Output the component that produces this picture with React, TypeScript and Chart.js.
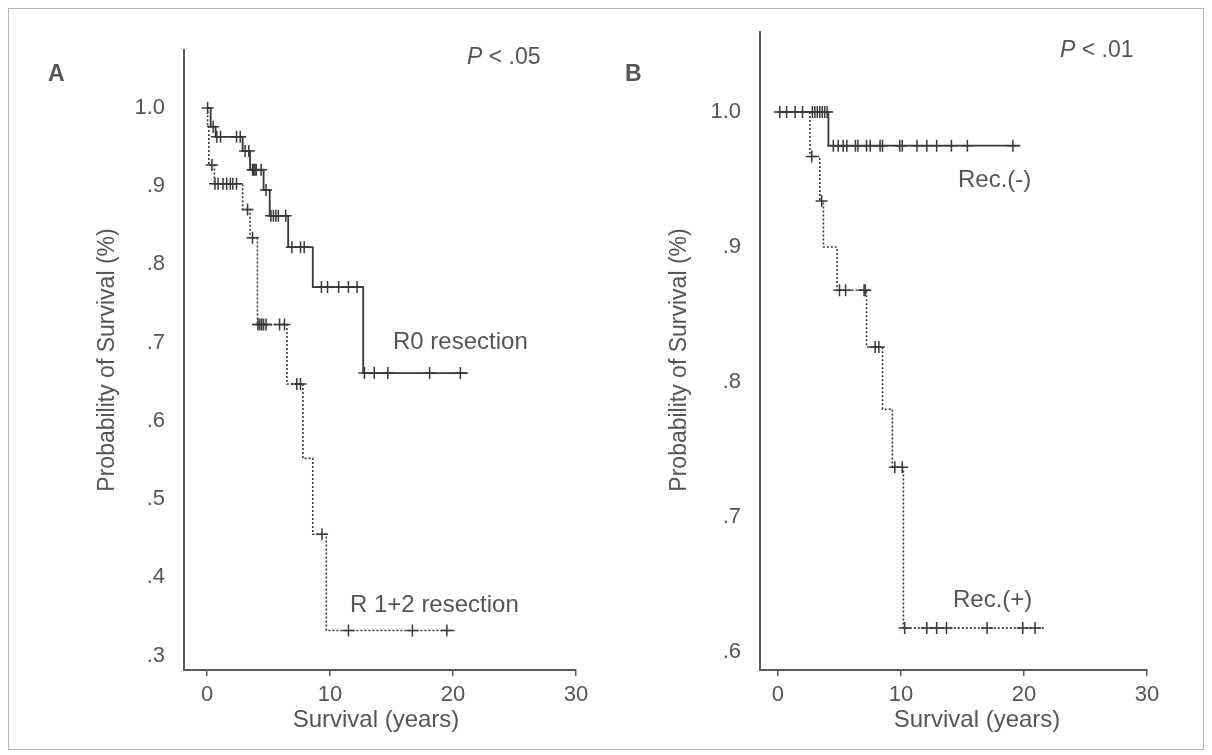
import React, { useEffect, useRef } from "react";
import { Chart, registerables } from "chart.js";

Chart.register(...registerables);

// ---------- data ----------
const xTickValues = [0, 10, 20, 30];
const xTickLabels = ["0", "10", "20", "30"];

const panelAYTicks = [0.3, 0.4, 0.5, 0.6, 0.7, 0.8, 0.9, 1.0];
const panelAYLabels = [".3", ".4", ".5", ".6", ".7", ".8", ".9", "1.0"];
const panelBYTicks = [0.6, 0.7, 0.8, 0.9, 1.0];
const panelBYLabels = [".6", ".7", ".8", ".9", "1.0"];

// Panel A: R0 resection (solid)
const r0Times = [0, 0.3, 0.7, 2.9, 3.5, 4.6, 5.1, 6.6, 8.6, 12.7, 21.2];
const r0Surv = [1.0, 0.976, 0.963, 0.945, 0.921, 0.895, 0.862, 0.822, 0.771, 0.661, 0.661];
const r0Censored = [0.05, 0.5, 0.8, 1.1, 2.4, 2.7, 3.1, 3.4, 3.7, 3.8, 3.9, 4.0, 4.4, 4.8, 5.2, 5.4, 5.6, 5.8, 6.4, 6.9, 7.6, 7.9, 9.3, 9.8, 10.7, 11.5, 12.2, 12.8, 13.6, 14.7, 18.1, 20.6];

// Panel A: R 1+2 resection (dotted)
const r12Times = [0, 0.05, 0.15, 0.6, 2.9, 3.5, 4.1, 6.5, 7.8, 8.6, 9.7, 20.2];
const r12Surv = [1.0, 0.976, 0.927, 0.903, 0.87, 0.834, 0.723, 0.647, 0.552, 0.455, 0.332, 0.332];
const r12Censored = [0.4, 0.65, 0.9, 1.3, 1.6, 1.9, 2.1, 2.4, 3.3, 3.7, 4.15, 4.3, 4.45, 4.6, 4.8, 5.9, 6.3, 7.3, 7.6, 9.35, 11.5, 16.7, 19.5];

// Panel B: Rec.(-) (solid)
const recNegTimes = [0, 4.1, 19.7];
const recNegSurv = [1.0, 0.975, 0.975];
const recNegCensored = [0.15, 0.7, 1.4, 2.0, 2.8, 3.0, 3.2, 3.4, 3.6, 3.8, 4.0, 4.5, 4.9, 5.3, 5.6, 6.3, 6.5, 7.2, 7.5, 8.3, 8.5, 9.9, 10.1, 11.3, 12.1, 12.9, 14.1, 15.4, 19.1];

// Panel B: Rec.(+) (dotted)
const recPosTimes = [0, 2.6, 3.4, 3.7, 4.8, 7.2, 8.5, 9.3, 10.2, 21.7];
const recPosSurv = [1.0, 0.967, 0.934, 0.9, 0.868, 0.826, 0.78, 0.737, 0.618, 0.618];
const recPosCensored = [2.75, 3.55, 5.0, 5.5, 7.0, 7.1, 7.9, 8.2, 9.5, 10.1, 10.3, 12.1, 12.9, 13.7, 17.0, 19.9, 20.9];

// ---------- styling ----------
const FONT = '"Liberation Sans", Arial, Helvetica, sans-serif';
const INK = "#383838";
const TEXT = "#555555";
const AXIS = "#5a5a5a";

function levelAt(times: number[], surv: number[], t: number) {
  let v = surv[0];
  for (let i = 0; i < times.length; i++) if (times[i] <= t) v = surv[i];
  return v;
}

function curveDataset(times: number[], surv: number[], dotted: boolean) {
  return {
    type: "line" as const,
    data: times.map((t, i) => ({ x: t, y: surv[i] })),
    stepped: "before" as const,
    borderColor: INK,
    borderWidth: dotted ? 1.6 : 1.8,
    borderDash: dotted ? [2, 2] : [],
    pointRadius: 0,
    fill: false,
    showLine: true,
  };
}

function censorDataset(times: number[], surv: number[], cens: number[]) {
  return {
    type: "scatter" as const,
    data: cens.map((t) => ({ x: t, y: levelAt(times, surv, t) })),
    pointStyle: "cross" as const,
    pointRadius: 6,
    pointBorderWidth: 1.5,
    borderColor: INK,
    backgroundColor: INK,
    showLine: false,
  };
}

const panelTextPlugin = {
  id: "panelText",
  afterDraw(chart: any, _args: any, opts: any) {
    const ctx = chart.ctx as CanvasRenderingContext2D;
    for (const item of opts.items || []) {
      ctx.save();
      ctx.fillStyle = TEXT;
      ctx.textBaseline = "middle";
      ctx.translate(item.x, item.y);
      if (item.rotate) ctx.rotate(item.rotate);
      // measure total width for centring
      let total = 0;
      for (const part of item.parts) {
        ctx.font = `${part.style || "normal"} ${part.weight || "normal"} ${item.size}px ${FONT}`;
        total += ctx.measureText(part.text).width;
      }
      let x = item.center ? -total / 2 : 0;
      ctx.textAlign = "left";
      for (const part of item.parts) {
        ctx.font = `${part.style || "normal"} ${part.weight || "normal"} ${item.size}px ${FONT}`;
        ctx.fillText(part.text, x, 0);
        x += ctx.measureText(part.text).width;
      }
      ctx.restore();
    }
  },
};

type PanelSpec = {
  width: number;
  height: number;
  xMin: number;
  yMin: number;
  yMax: number;
  yTicks: number[];
  yLabels: string[];
  yAxisWidth: number;
  padTop: number;
  padRight: number;
  datasets: any[];
  texts: any[];
};

function buildConfig(p: PanelSpec): any {
  return {
    type: "scatter",
    data: { datasets: p.datasets },
    plugins: [panelTextPlugin],
    options: {
      responsive: false,
      animation: false,
      devicePixelRatio: 1,
      layout: { padding: { left: 0, right: p.padRight, top: p.padTop, bottom: 0 } },
      plugins: {
        legend: { display: false },
        tooltip: { enabled: false },
        panelText: { items: p.texts },
      },
      scales: {
        x: {
          type: "linear",
          min: p.xMin,
          max: 30,
          afterBuildTicks: (s: any) => {
            s.ticks = xTickValues.map((v) => ({ value: v }));
          },
          afterFit: (s: any) => {
            s.height = 80;
          },
          ticks: {
            autoSkip: false,
            maxRotation: 0,
            padding: 6,
            color: TEXT,
            font: { family: FONT, size: 22 },
            callback: (v: number) => xTickLabels[xTickValues.indexOf(v)] ?? "",
          },
          grid: {
            display: true,
            drawOnChartArea: false,
            drawTicks: true,
            tickLength: 6,
            color: AXIS,
            lineWidth: 1.5,
          },
          border: { display: true, color: AXIS, width: 2 },
          title: { display: false },
        },
        y: {
          type: "linear",
          min: p.yMin,
          max: p.yMax,
          afterBuildTicks: (s: any) => {
            s.ticks = p.yTicks.map((v) => ({ value: v }));
          },
          afterFit: (s: any) => {
            s.width = p.yAxisWidth;
          },
          ticks: {
            padding: 11,
            color: TEXT,
            font: { family: FONT, size: 22 },
            callback: (v: number) => {
              const i = p.yTicks.findIndex((t) => Math.abs(t - v) < 1e-6);
              return i >= 0 ? p.yLabels[i] : "";
            },
          },
          grid: { display: false },
          border: { display: true, color: AXIS, width: 2 },
          title: { display: false },
        },
      },
    },
  };
}

const Y_TITLE = "Probability of Survival (%)";
const X_TITLE = "Survival (years)";

const panelA: PanelSpec = {
  width: 596,
  height: 742,
  xMin: -1.87,
  yMin: 0.2815,
  yMax: 1.074,
  yTicks: panelAYTicks,
  yLabels: panelAYLabels,
  yAxisWidth: 176,
  padTop: 42,
  padRight: 28,
  datasets: [
    curveDataset(r0Times, r0Surv, false),
    censorDataset(r0Times, r0Surv, r0Censored),
    curveDataset(r12Times, r12Surv, true),
    censorDataset(r12Times, r12Surv, r12Censored),
  ],
  texts: [
    { x: 40, y: 67, size: 23, parts: [{ text: "A", weight: "bold" }] },
    { x: 459, y: 50, size: 23, parts: [{ text: "P", style: "italic" }, { text: " < .05" }] },
    { x: 385, y: 334, size: 24, parts: [{ text: "R0 resection" }] },
    { x: 342, y: 597, size: 24, parts: [{ text: "R 1+2 resection" }] },
    { x: 100, y: 352, size: 23, rotate: -Math.PI / 2, center: true, parts: [{ text: Y_TITLE }] },
    { x: 368, y: 712, size: 24, center: true, parts: [{ text: X_TITLE }] },
  ],
};

const panelB: PanelSpec = {
  width: 600,
  height: 742,
  xMin: -1.46,
  yMin: 0.587,
  yMax: 1.059,
  yTicks: panelBYTicks,
  yLabels: panelBYLabels,
  yAxisWidth: 156,
  padTop: 20,
  padRight: 57,
  datasets: [
    curveDataset(recNegTimes, recNegSurv, false),
    censorDataset(recNegTimes, recNegSurv, recNegCensored),
    curveDataset(recPosTimes, recPosSurv, true),
    censorDataset(recPosTimes, recPosSurv, recPosCensored),
  ],
  texts: [
    { x: 21, y: 67, size: 23, parts: [{ text: "B", weight: "bold" }] },
    { x: 456, y: 43, size: 23, parts: [{ text: "P", style: "italic" }, { text: " < .01" }] },
    { x: 354, y: 172, size: 24, parts: [{ text: "Rec.(-)" }] },
    { x: 349, y: 592, size: 24, parts: [{ text: "Rec.(+)" }] },
    { x: 76, y: 352, size: 23, rotate: -Math.PI / 2, center: true, parts: [{ text: Y_TITLE }] },
    { x: 373, y: 712, size: 24, center: true, parts: [{ text: X_TITLE }] },
  ],
};

function Panel({ spec, left }: { spec: PanelSpec; left: number }) {
  const ref = useRef<HTMLCanvasElement>(null);
  useEffect(() => {
    const chart = new Chart(ref.current as HTMLCanvasElement, buildConfig(spec));
    return () => chart.destroy();
  }, [spec]);
  return (
    <canvas
      ref={ref}
      width={spec.width}
      height={spec.height}
      style={{ position: "absolute", left, top: 0, width: spec.width, height: spec.height }}
    />
  );
}

export default function App() {
  return (
    <div style={{ position: "relative", width: 1196, height: 742, background: "#fff" }}>
      <div
        style={{
          position: "absolute",
          left: 0,
          top: 0,
          width: 1196,
          height: 742,
          border: "1px solid #b5b5b5",
          boxSizing: "border-box",
        }}
      />
      <Panel spec={panelA} left={0} />
      <Panel spec={panelB} left={596} />
    </div>
  );
}
